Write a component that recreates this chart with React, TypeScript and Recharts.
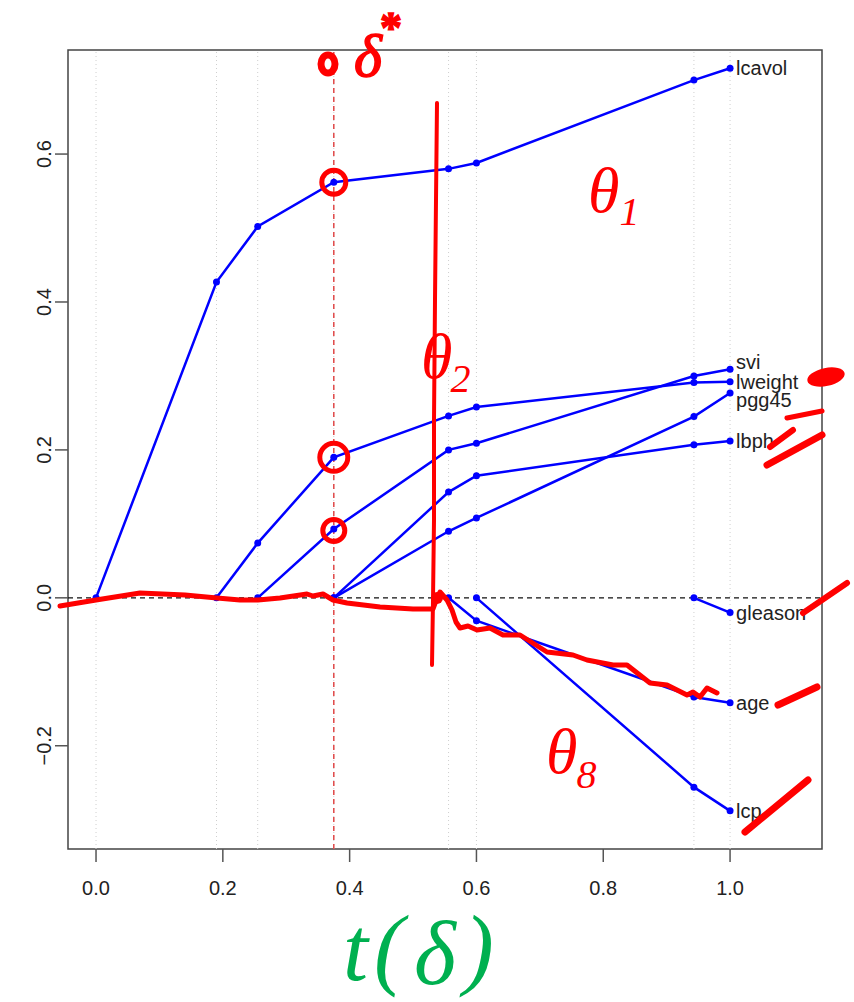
import React from 'react';
import {
  LineChart,
  Line,
  XAxis,
  YAxis,
  ReferenceLine,
  ReferenceArea,
  ReferenceDot
} from 'recharts';

// LARS path: shrinkage factor t at each step, coefficient per variable
const steps = [0, 0.19, 0.255, 0.375, 0.556, 0.6, 0.943, 1.0];
const lcavol = [0, 0.427, 0.502, 0.562, 0.58, 0.588, 0.7, 0.716];
const lweight = [null, 0, 0.074, 0.19, 0.246, 0.258, 0.291, 0.292];
const svi = [null, null, 0, 0.093, 0.2, 0.209, 0.3, 0.309];
const lbph = [null, null, null, 0, 0.143, 0.165, 0.207, 0.212];
const pgg45 = [null, null, null, 0, 0.09, 0.108, 0.245, 0.277];
const age = [null, null, null, null, 0, -0.031, -0.134, -0.142];
const lcp = [null, null, null, null, null, 0, -0.256, -0.288];
const gleason = [null, null, null, null, null, null, 0, -0.02];

const xTicks = [0, 0.2, 0.4, 0.6, 0.8, 1.0];
const yTicks = [-0.2, 0, 0.2, 0.4, 0.6];
const deltaStar = 0.375;

const seriesList: { name: string; values: (number | null)[]; labelDy: number }[] = [
  { name: 'lcavol', values: lcavol, labelDy: 0 },
  { name: 'svi', values: svi, labelDy: -7 },
  { name: 'lweight', values: lweight, labelDy: 0 },
  { name: 'pgg45', values: pgg45, labelDy: 7 },
  { name: 'lbph', values: lbph, labelDy: 0 },
  { name: 'gleason', values: gleason, labelDy: 0 },
  { name: 'age', values: age, labelDy: 0 },
  { name: 'lcp', values: lcp, labelDy: 0 }
];

const rows = steps.map((t, i) => {
  const row: Record<string, number | null> = { t };
  seriesList.forEach(s => { row[s.name] = s.values[i]; });
  return row;
});

// handwritten circles drawn on top of the path (data coords)
const inkCircles = [
  { t: 0.375, v: 0.562, r: 12 },
  { t: 0.375, v: 0.19, r: 14 },
  { t: 0.375, v: 0.091, r: 11 }
];

// freehand ink, pixel space of the photographed page
const zeroScribble = [
  [60, 606], [96, 600], [140, 593], [185, 595], [217, 598], [240, 600], [258, 600],
  [280, 598], [307, 594], [313, 596], [323, 594], [333, 600], [347, 603], [380, 607],
  [413, 609], [433, 609], [437, 598], [440, 592], [447, 600], [452, 610], [456, 622],
  [460, 628], [468, 626], [477, 630], [490, 628], [503, 635], [520, 635], [547, 652],
  [573, 655], [587, 660], [613, 665], [627, 665], [650, 683], [667, 685], [687, 695],
  [693, 692], [700, 697], [707, 688], [717, 693]
];
const verticalStroke = [[437, 103], [436, 200], [435, 300], [434, 420], [434, 520], [433, 600], [432, 665]];
const tickStrokes = [
  { pts: [[787, 418], [822, 411]], w: 5 },
  { pts: [[770, 447], [793, 430]], w: 6 },
  { pts: [[767, 465], [822, 435]], w: 7 },
  { pts: [[803, 613], [847, 583]], w: 6 },
  { pts: [[778, 705], [817, 687]], w: 7 },
  { pts: [[745, 832], [808, 780]], w: 7 }
];

const BLUE = '#0000ff';
const RED = '#ff0000';
const FONT = '"Liberation Sans", Arial, sans-serif';
const SERIF = '"Liberation Serif", "DejaVu Serif", serif';

const fmt = (v: number) => v.toFixed(1).replace('-', '\u2212');

const toPath = (pts: number[][]) => pts.map((p, i) => `${i ? 'L' : 'M'}${p[0]},${p[1]}`).join(' ');

const makeDot = (name: string, labelDy: number) => (props: any) => {
  const { cx, cy, index, payload } = props;
  const key = `${name}-${index}`;
  if (payload == null || payload[name] == null || cy == null) return <g key={key} />;
  const last = index === steps.length - 1;
  return (
    <g key={key}>
      <circle cx={cx} cy={cy} r={3.5} fill={BLUE} />
      {last && (
        <text x={cx + 6} y={cy + labelDy} dominantBaseline="central" fontSize={20} fontFamily={FONT} fill="#222">
          {name}
        </text>
      )}
    </g>
  );
};

const YTick = (props: any) => {
  const { x, y, payload } = props;
  return (
    <text x={x} y={y} transform={`rotate(-90, ${x}, ${y})`} textAnchor="middle" fontSize={20} fontFamily={FONT} fill="#222">
      {fmt(payload.value)}
    </text>
  );
};

const X_DOMAIN: [number, number] = [-0.0442, 1.145];
const Y_DOMAIN: [number, number] = [-0.3396, 0.7407];

export default function App() {
  return (
    <div style={{ position: 'absolute', left: 0, top: 0, width: 854, height: 1002, background: '#fff' }}>
      <LineChart width={854} height={1002} data={rows} margin={{ top: 50, right: 32, left: 0, bottom: 0 }}>
        <XAxis
          dataKey="t"
          type="number"
          domain={X_DOMAIN}
          allowDataOverflow
          ticks={xTicks}
          tickFormatter={fmt}
          height={153}
          axisLine={false}
          tickSize={13}
          tickMargin={19}
          tickLine={{ stroke: '#555', strokeWidth: 1.5 }}
          tick={{ fontSize: 20, fontFamily: FONT, fill: '#222' }}
        />
        <YAxis
          type="number"
          domain={Y_DOMAIN}
          allowDataOverflow
          ticks={yTicks}
          width={68}
          axisLine={false}
          tickSize={13}
          tickMargin={4}
          tickLine={{ stroke: '#555', strokeWidth: 1.5 }}
          tick={<YTick />}
        />
        {steps.map(s => (
          <ReferenceLine key={`g${s}`} x={s} stroke="#cfcfcf" strokeDasharray="1 3" />
        ))}
        <ReferenceLine y={0} stroke="#111" strokeDasharray="5 4" strokeWidth={1.3} />
        <ReferenceLine x={deltaStar} stroke="#e04848" strokeDasharray="5 4" strokeWidth={1.5} />
        <ReferenceArea x1={X_DOMAIN[0]} x2={X_DOMAIN[1]} y1={Y_DOMAIN[0]} y2={Y_DOMAIN[1]} fill="none" stroke="#444" strokeWidth={1.5} />
        {seriesList.map(s => (
          <Line
            key={s.name}
            dataKey={s.name}
            stroke={BLUE}
            strokeWidth={2.5}
            dot={makeDot(s.name, s.labelDy)}
            activeDot={false}
            connectNulls={false}
            isAnimationActive={false}
          />
        ))}
        {inkCircles.map((c, i) => (
          <ReferenceDot key={`c${i}`} x={c.t} y={c.v} r={c.r} fill="none" stroke={RED} strokeWidth={5} />
        ))}
      </LineChart>

      <svg width={854} height={1002} style={{ position: 'absolute', left: 0, top: 0, pointerEvents: 'none' }}>
        <g fill="none" stroke={RED} strokeLinecap="round" strokeLinejoin="round">
          <path d={toPath(zeroScribble)} strokeWidth={5} />
          <path d={toPath(verticalStroke)} strokeWidth={4} />
          {tickStrokes.map((s, i) => <path key={i} d={toPath(s.pts)} strokeWidth={s.w} />)}
          <ellipse cx={328} cy={64} rx={7} ry={9} strokeWidth={7} />
        </g>
        <circle cx={437} cy={598} r={6} fill={RED} />
        <ellipse cx={826} cy={377} rx={19} ry={9} fill={RED} transform="rotate(-12 826 377)" />

        <g fill={RED} fontFamily={SERIF} fontStyle="italic">
          <text x={354} y={76} fontSize={60} stroke={RED} strokeWidth={1.5}>
            δ<tspan dx={-2} dy={-34} fontSize={44} fontWeight="bold" fontStyle="normal">*</tspan>
          </text>
          <text x={588} y={212} fontSize={64}>
            θ<tspan dx={0} dy={13} fontSize={40}>1</tspan>
          </text>
          <text x={421} y={378} fontSize={64}>
            θ<tspan dx={-2} dy={14} fontSize={40}>2</tspan>
          </text>
          <text x={546} y={773} fontSize={64}>
            θ<tspan dx={-1} dy={15} fontSize={40}>8</tspan>
          </text>
        </g>
        <text x={343} y={980} fill="#00b050" fontFamily={SERIF} fontStyle="italic" fontSize={90}>
          t<tspan dx={6} dy={-2}>(</tspan><tspan dx={10} dy={6}>δ</tspan><tspan dx={8} dy={-6}>)</tspan>
        </text>
      </svg>
    </div>
  );
}
